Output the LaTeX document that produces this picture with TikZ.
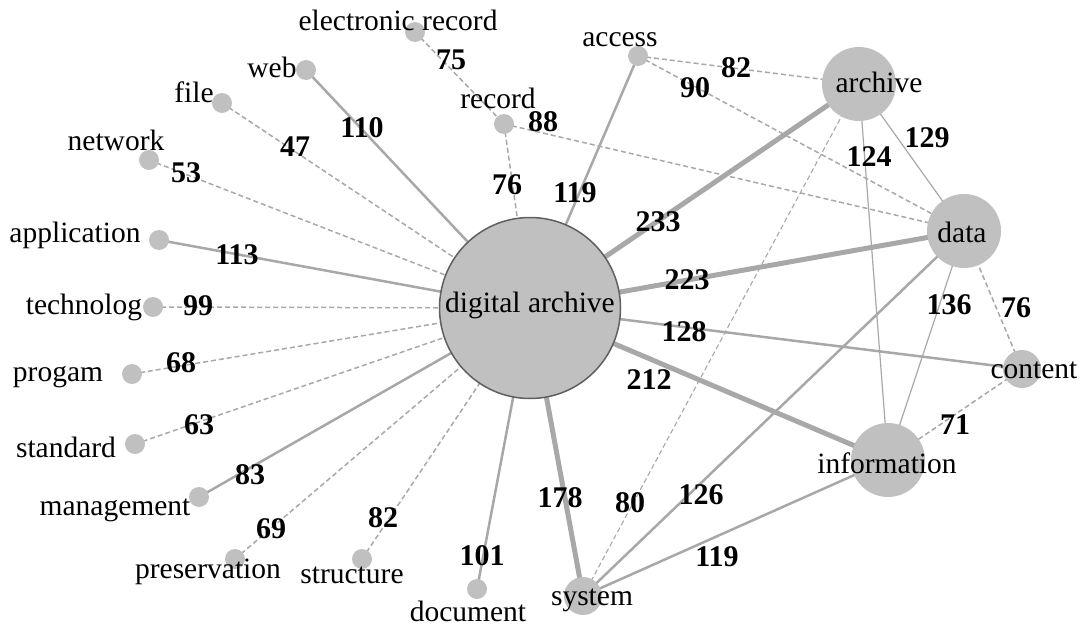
\documentclass[tikz,border=0pt]{standalone}
\usepackage{fontspec}
\setmainfont{Liberation Serif}
\usetikzlibrary{backgrounds}
\definecolor{nodefill}{RGB}{192,192,192}
\definecolor{edgecol}{RGB}{168,168,168}
\definecolor{hubborder}{RGB}{95,95,95}
\begin{document}
\begin{tikzpicture}[x=1pt,y=-1pt,
  dot/.style={circle, fill=nodefill, minimum size=20pt, inner sep=0pt},
  mid/.style={circle, fill=nodefill, minimum size=38pt, inner sep=0pt},
  big/.style={circle, fill=nodefill, minimum size=74pt, inner sep=0pt},
  hub/.style={circle, fill=nodefill, draw=hubborder, line width=1.5pt, minimum size=181pt, inner sep=0pt},
  lbl/.style={font=\fontsize{29.5}{34}\selectfont, inner sep=0pt},
  wl/.style={font=\bfseries\fontsize{30}{34}\selectfont, inner sep=0pt},
  ew/.style={draw=edgecol, line width=2.5pt},
  ethick/.style={draw=edgecol, line width=5pt},
  ethin/.style={draw=edgecol, line width=1.2pt},
  edash/.style={draw=edgecol, line width=1.5pt, dash pattern=on 5pt off 3pt},
  edashthin/.style={draw=edgecol, line width=1.1pt, dash pattern=on 5pt off 3pt}]
\useasboundingbox (0,0) rectangle (1084,626);
% nodes
\node[hub] (da) at (530,308) {};
\node[dot] (er) at (415,32) {};
\node[dot] (web) at (306,70) {};
\node[dot] (file) at (222,103) {};
\node[dot] (net) at (149,160) {};
\node[dot] (app) at (159,240) {};
\node[dot] (tech) at (153,307) {};
\node[dot] (prog) at (132,374) {};
\node[dot] (std) at (135,444) {};
\node[dot] (mgmt) at (199,497) {};
\node[dot] (pres) at (235,559) {};
\node[dot] (struc) at (362,559) {};
\node[dot] (doc) at (477,589) {};
\node[dot] (rec) at (504,124) {};
\node[dot] (acc) at (638,56) {};
\node[big] (arch) at (859,84) {};
\node[big] (data) at (964,231) {};
\node[mid] (cont) at (1022,369) {};
\node[big] (info) at (888,460) {};
\node[mid] (sys) at (583,596) {};
% edges
\begin{scope}[on background layer]
\draw[edash] (er.center) -- (rec.center);
\draw[edash] (rec.center) -- (da.center);
\draw[edash] (rec.center) -- (data.center);
\draw[ew] (web.center) -- (da.center);
\draw[edash] (file.center) -- (da.center);
\draw[edash] (net.center) -- (da.center);
\draw[ew] (app.center) -- (da.center);
\draw[edash] (tech.center) -- (da.center);
\draw[edash] (prog.center) -- (da.center);
\draw[edash] (std.center) -- (da.center);
\draw[ew] (mgmt.center) -- (da.center);
\draw[edash] (pres.center) -- (da.center);
\draw[edash] (struc.center) -- (da.center);
\draw[ew] (doc.center) -- (da.center);
\draw[ethick] (sys.center) -- (da.center);
\draw[ethick] (info.center) -- (da.center);
\draw[ew] (cont.center) -- (da.center);
\draw[ethick] (data.center) -- (da.center);
\draw[ethick] (arch.center) -- (da.center);
\draw[ew] (acc.center) -- (da.center);
\draw[edash] (acc.center) -- (arch.center);
\draw[edash] (acc.center) -- (data.center);
\draw[ethin] (arch.center) -- (data.center);
\draw[ethin] (arch.center) -- (info.center);
\draw[edashthin] (arch.center) -- (sys.center);
\draw[ew] (data.center) -- (sys.center);
\draw[ethin] (data.center) -- (info.center);
\draw[edash] (data.center) -- (cont.center);
\draw[edash] (cont.center) -- (info.center);
\draw[ew] (info.center) -- (sys.center);
\end{scope}
% node labels
\node[lbl] (tda) at (530,305) {digital archive};
\node[lbl] (ter) at (398,20) {electronic record};
\node[lbl] (tweb) at (272,67) {web};
\node[lbl] (tfile) at (194,92) {file};
\node[lbl] (tnet) at (116,140) {network};
\node[lbl] (tapp) at (75,235) {application};
\node[lbl] (ttech) at (84,307) {technolog};
\node[lbl] (tprog) at (58,377) {progam};
\node[lbl] (tstd) at (66,447) {standard};
\node[lbl] (tmgmt) at (115,510) {management};
\node[lbl] (tpres) at (208,572) {preservation};
\node[lbl] (tstruc) at (352,575) {structure};
\node[lbl] (tdoc) at (468,611) {document};
\node[lbl] (trec) at (498,98) {record};
\node[lbl] (tacc) at (620,40) {access};
\node[lbl] (tarch) at (879,82) {archive};
\node[lbl] (tdata) at (962,232) {data};
\node[lbl] (tcont) at (1034,370) {content};
\node[lbl] (tinfo) at (887,463) {information};
\node[lbl] (tsys) at (592,600) {system};
% edge weights
\node[wl] (w1) at (451,60) {75};
\node[wl] (w2) at (543,122) {88};
\node[wl] (w3) at (507,185) {76};
\node[wl] (w4) at (362,128) {110};
\node[wl] (w5) at (295,147) {47};
\node[wl] (w6) at (186,173) {53};
\node[wl] (w7) at (237,255) {113};
\node[wl] (w8) at (198,306) {99};
\node[wl] (w9) at (181,363) {68};
\node[wl] (w10) at (199,425) {63};
\node[wl] (w11) at (250,475) {83};
\node[wl] (w12) at (271,529) {69};
\node[wl] (w13) at (383,518) {82};
\node[wl] (w14) at (482,556) {101};
\node[wl] (w15) at (575,193) {119};
\node[wl] (w16) at (736,68) {82};
\node[wl] (w17) at (695,88) {90};
\node[wl] (w18) at (658,222) {233};
\node[wl] (w19) at (869,157) {124};
\node[wl] (w20) at (927,138) {129};
\node[wl] (w21) at (687,280) {223};
\node[wl] (w22) at (949,305) {136};
\node[wl] (w23) at (1016,308) {76};
\node[wl] (w24) at (684,332) {128};
\node[wl] (w25) at (649,380) {212};
\node[wl] (w26) at (955,425) {71};
\node[wl] (w27) at (560,498) {178};
\node[wl] (w28) at (630,503) {80};
\node[wl] (w29) at (701,495) {126};
\node[wl] (w30) at (717,557) {119};
\end{tikzpicture}
\end{document}
